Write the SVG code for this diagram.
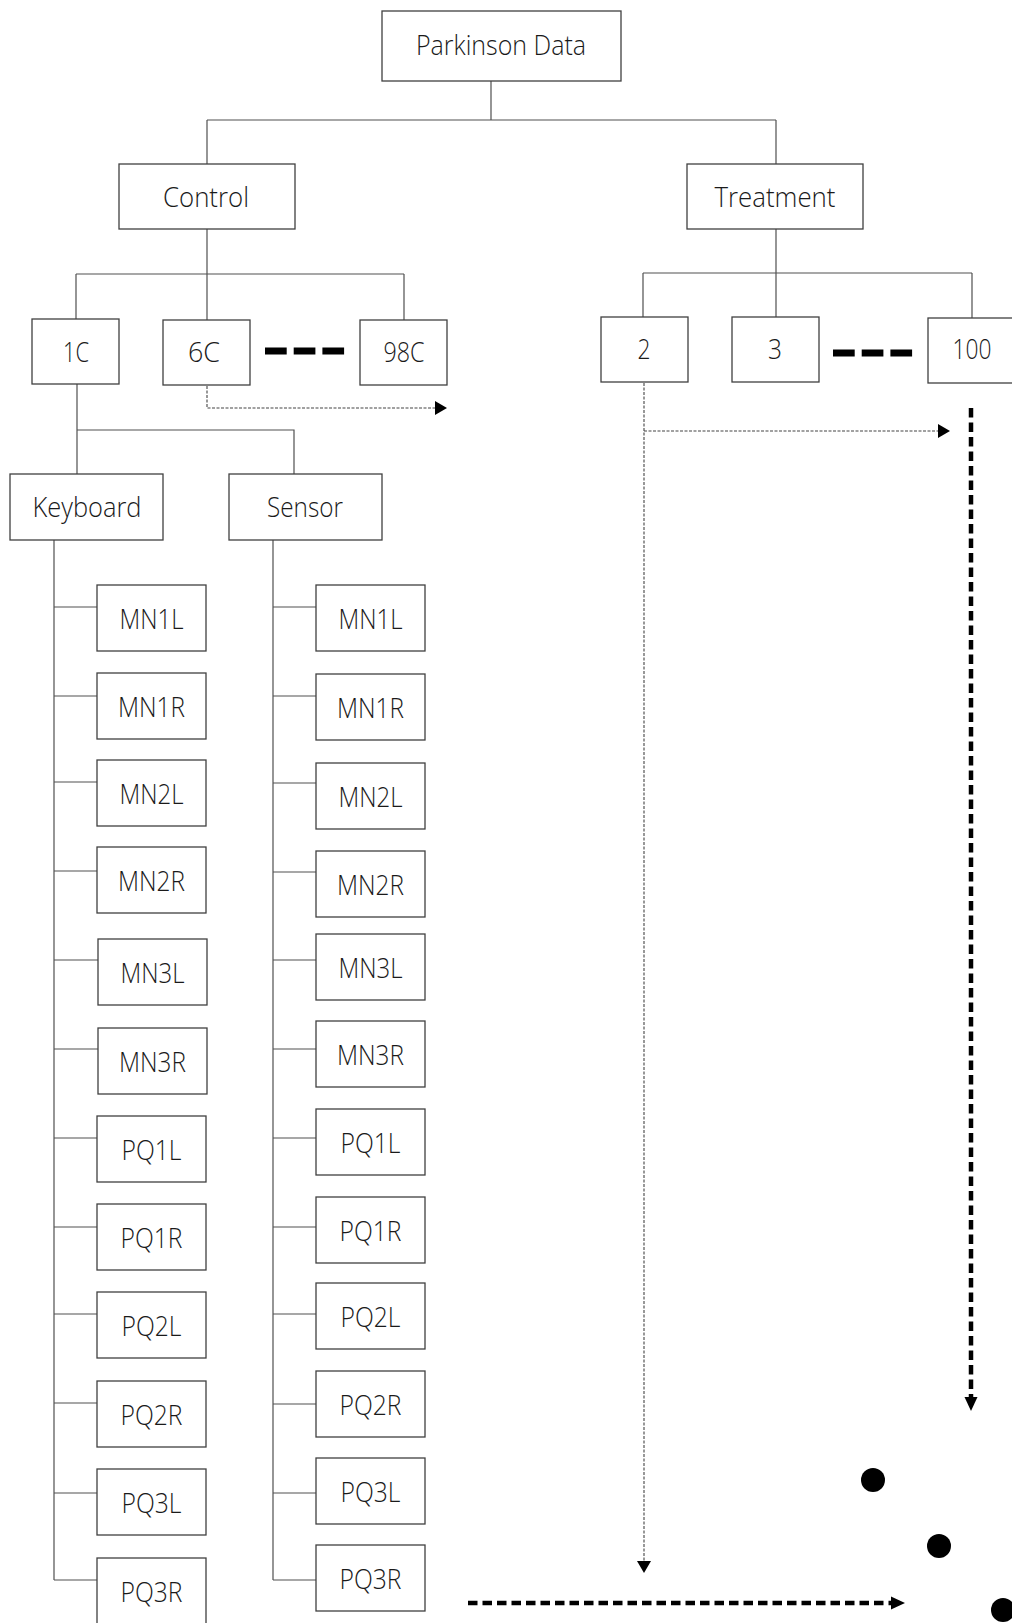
<svg xmlns="http://www.w3.org/2000/svg" width="1012" height="1623" viewBox="0 0 1012 1623">
<style>
.box{fill:#fff;stroke:#404040;stroke-width:1.3}
.lbl{font-family:"Open Sans","Noto Sans",sans-serif;font-weight:300;font-size:27.5px;fill:#1a1a1a;text-anchor:middle}
.ln{fill:none;stroke:#505050;stroke-width:1.2}
.dot{fill:none;stroke:#444;stroke-width:1.1;stroke-dasharray:3 1.5}
.thick{fill:none;stroke:#000;stroke-width:4.5;stroke-dasharray:9.5 5}
.bar{fill:none;stroke:#000;stroke-width:7;stroke-dasharray:21.7 7}
</style>
<defs>
<marker id="ah" markerUnits="userSpaceOnUse" markerWidth="13" markerHeight="15" refX="0" refY="7" orient="auto" overflow="visible"><path d="M0,0 L12,7 L0,14 z" fill="#000"/></marker>
<marker id="ahT" markerUnits="userSpaceOnUse" markerWidth="15" markerHeight="15" refX="0" refY="7" orient="auto" overflow="visible"><path d="M0,0.5 L14,7 L0,13.5 z" fill="#000"/></marker>
</defs>
<rect width="1012" height="1623" fill="#fff"/>
<g id="connectors">
<path class="ln" d="M491,81 V120 M207,120 H776 M207,120 V164 M776,120 V164"/>
<path class="ln" d="M207,229 V320 M76,274 H404 M76,274 V319 M404,274 V320"/>
<path class="ln" d="M776,229 V317 M643,273 H972 M643,273 V317 M972,273 V318"/>
<path class="ln" d="M77,384 V474 M77,430 H294 V474"/>
<path class="ln" d="M54,540 V1580 M54,607 H97 M54,696 H97 M54,782 H97 M54,871 H97 M54,960 H98 M54,1049 H98 M54,1138 H97 M54,1227 H97 M54,1314 H97 M54,1403 H97 M54,1493 H97 M54,1580 H97"/>
<path class="ln" d="M273,540 V1580 M273,607 H316 M273,696 H316 M273,783 H316 M273,872 H316 M273,960 H316 M273,1049 H316 M273,1138 H316 M273,1227 H316 M273,1314 H316 M273,1404 H316 M273,1493 H316 M273,1580 H316"/>
<path class="dot" d="M207,386 V408 H435" marker-end="url(#ah)"/>
<path class="dot" d="M644,383 V1561" marker-end="url(#ah)"/>
<path class="dot" d="M644,431 H938" marker-end="url(#ah)"/>
<path class="thick" d="M971,408 V1397" marker-end="url(#ahT)"/>
<path class="thick" d="M468,1603 H891" marker-end="url(#ahT)"/>
<path class="bar" d="M265,351 H345"/>
<path class="bar" d="M833,353 H913"/>
<circle cx="873" cy="1480" r="12" fill="#000"/>
<circle cx="939" cy="1546" r="12" fill="#000"/>
<circle cx="1003" cy="1610" r="12" fill="#000"/>
</g>
<g id="root"><rect class="box" x="382" y="11" width="239" height="70"/><text class="lbl" x="501" y="55" textLength="170" lengthAdjust="spacingAndGlyphs">Parkinson Data</text></g>
<g id="control"><rect class="box" x="119" y="164" width="176" height="65"/><text class="lbl" x="206" y="207" textLength="86" lengthAdjust="spacingAndGlyphs">Control</text></g>
<g id="treatment"><rect class="box" x="687" y="164" width="176" height="65"/><text class="lbl" x="775" y="207" textLength="121" lengthAdjust="spacingAndGlyphs">Treatment</text></g>
<g id="c1"><rect class="box" x="32" y="319" width="87" height="65"/><text class="lbl" x="76" y="362" textLength="26" lengthAdjust="spacingAndGlyphs">1C</text></g>
<g id="c6"><rect class="box" x="163" y="320" width="87" height="65"/><text class="lbl" x="204" y="362" textLength="32" lengthAdjust="spacingAndGlyphs">6C</text></g>
<g id="c98"><rect class="box" x="360" y="320" width="87" height="65"/><text class="lbl" x="404" y="362" textLength="41" lengthAdjust="spacingAndGlyphs">98C</text></g>
<g id="t2"><rect class="box" x="601" y="317" width="87" height="65"/><text class="lbl" x="644" y="359" textLength="13" lengthAdjust="spacingAndGlyphs">2</text></g>
<g id="t3"><rect class="box" x="732" y="317" width="87" height="65"/><text class="lbl" x="775" y="359" textLength="14" lengthAdjust="spacingAndGlyphs">3</text></g>
<g id="t100"><rect class="box" x="928" y="318" width="88" height="65"/><text class="lbl" x="972" y="359" textLength="39" lengthAdjust="spacingAndGlyphs">100</text></g>
<g id="keyboard"><rect class="box" x="10" y="474" width="153" height="66"/><text class="lbl" x="87" y="517" textLength="109" lengthAdjust="spacingAndGlyphs">Keyboard</text></g>
<g id="sensor"><rect class="box" x="229" y="474" width="153" height="66"/><text class="lbl" x="305" y="517" textLength="76" lengthAdjust="spacingAndGlyphs">Sensor</text></g>
<g id="k-mn1l"><rect class="box" x="97" y="585" width="109" height="66"/><text class="lbl" x="151.5" y="629" textLength="64" lengthAdjust="spacingAndGlyphs">MN1L</text></g>
<g id="k-mn1r"><rect class="box" x="97" y="673" width="109" height="66"/><text class="lbl" x="151.5" y="717" textLength="67" lengthAdjust="spacingAndGlyphs">MN1R</text></g>
<g id="k-mn2l"><rect class="box" x="97" y="760" width="109" height="66"/><text class="lbl" x="151.5" y="804" textLength="64" lengthAdjust="spacingAndGlyphs">MN2L</text></g>
<g id="k-mn2r"><rect class="box" x="97" y="847" width="109" height="66"/><text class="lbl" x="151.5" y="891" textLength="67" lengthAdjust="spacingAndGlyphs">MN2R</text></g>
<g id="k-mn3l"><rect class="box" x="98" y="939" width="109" height="66"/><text class="lbl" x="152.5" y="983" textLength="64" lengthAdjust="spacingAndGlyphs">MN3L</text></g>
<g id="k-mn3r"><rect class="box" x="98" y="1028" width="109" height="66"/><text class="lbl" x="152.5" y="1072" textLength="67" lengthAdjust="spacingAndGlyphs">MN3R</text></g>
<g id="k-pq1l"><rect class="box" x="97" y="1116" width="109" height="66"/><text class="lbl" x="151.5" y="1160" textLength="60" lengthAdjust="spacingAndGlyphs">PQ1L</text></g>
<g id="k-pq1r"><rect class="box" x="97" y="1204" width="109" height="66"/><text class="lbl" x="151.5" y="1248" textLength="62" lengthAdjust="spacingAndGlyphs">PQ1R</text></g>
<g id="k-pq2l"><rect class="box" x="97" y="1292" width="109" height="66"/><text class="lbl" x="151.5" y="1336" textLength="60" lengthAdjust="spacingAndGlyphs">PQ2L</text></g>
<g id="k-pq2r"><rect class="box" x="97" y="1381" width="109" height="66"/><text class="lbl" x="151.5" y="1425" textLength="62" lengthAdjust="spacingAndGlyphs">PQ2R</text></g>
<g id="k-pq3l"><rect class="box" x="97" y="1469" width="109" height="66"/><text class="lbl" x="151.5" y="1513" textLength="60" lengthAdjust="spacingAndGlyphs">PQ3L</text></g>
<g id="k-pq3r"><rect class="box" x="97" y="1558" width="109" height="66"/><text class="lbl" x="151.5" y="1602" textLength="62" lengthAdjust="spacingAndGlyphs">PQ3R</text></g>
<g id="s-mn1l"><rect class="box" x="316" y="585" width="109" height="66"/><text class="lbl" x="370.5" y="629" textLength="64" lengthAdjust="spacingAndGlyphs">MN1L</text></g>
<g id="s-mn1r"><rect class="box" x="316" y="674" width="109" height="66"/><text class="lbl" x="370.5" y="718" textLength="67" lengthAdjust="spacingAndGlyphs">MN1R</text></g>
<g id="s-mn2l"><rect class="box" x="316" y="763" width="109" height="66"/><text class="lbl" x="370.5" y="807" textLength="64" lengthAdjust="spacingAndGlyphs">MN2L</text></g>
<g id="s-mn2r"><rect class="box" x="316" y="851" width="109" height="66"/><text class="lbl" x="370.5" y="895" textLength="67" lengthAdjust="spacingAndGlyphs">MN2R</text></g>
<g id="s-mn3l"><rect class="box" x="316" y="934" width="109" height="66"/><text class="lbl" x="370.5" y="978" textLength="64" lengthAdjust="spacingAndGlyphs">MN3L</text></g>
<g id="s-mn3r"><rect class="box" x="316" y="1021" width="109" height="66"/><text class="lbl" x="370.5" y="1065" textLength="67" lengthAdjust="spacingAndGlyphs">MN3R</text></g>
<g id="s-pq1l"><rect class="box" x="316" y="1109" width="109" height="66"/><text class="lbl" x="370.5" y="1153" textLength="60" lengthAdjust="spacingAndGlyphs">PQ1L</text></g>
<g id="s-pq1r"><rect class="box" x="316" y="1197" width="109" height="66"/><text class="lbl" x="370.5" y="1241" textLength="62" lengthAdjust="spacingAndGlyphs">PQ1R</text></g>
<g id="s-pq2l"><rect class="box" x="316" y="1283" width="109" height="66"/><text class="lbl" x="370.5" y="1327" textLength="60" lengthAdjust="spacingAndGlyphs">PQ2L</text></g>
<g id="s-pq2r"><rect class="box" x="316" y="1371" width="109" height="66"/><text class="lbl" x="370.5" y="1415" textLength="62" lengthAdjust="spacingAndGlyphs">PQ2R</text></g>
<g id="s-pq3l"><rect class="box" x="316" y="1458" width="109" height="66"/><text class="lbl" x="370.5" y="1502" textLength="60" lengthAdjust="spacingAndGlyphs">PQ3L</text></g>
<g id="s-pq3r"><rect class="box" x="316" y="1545" width="109" height="66"/><text class="lbl" x="370.5" y="1589" textLength="62" lengthAdjust="spacingAndGlyphs">PQ3R</text></g>
</svg>
